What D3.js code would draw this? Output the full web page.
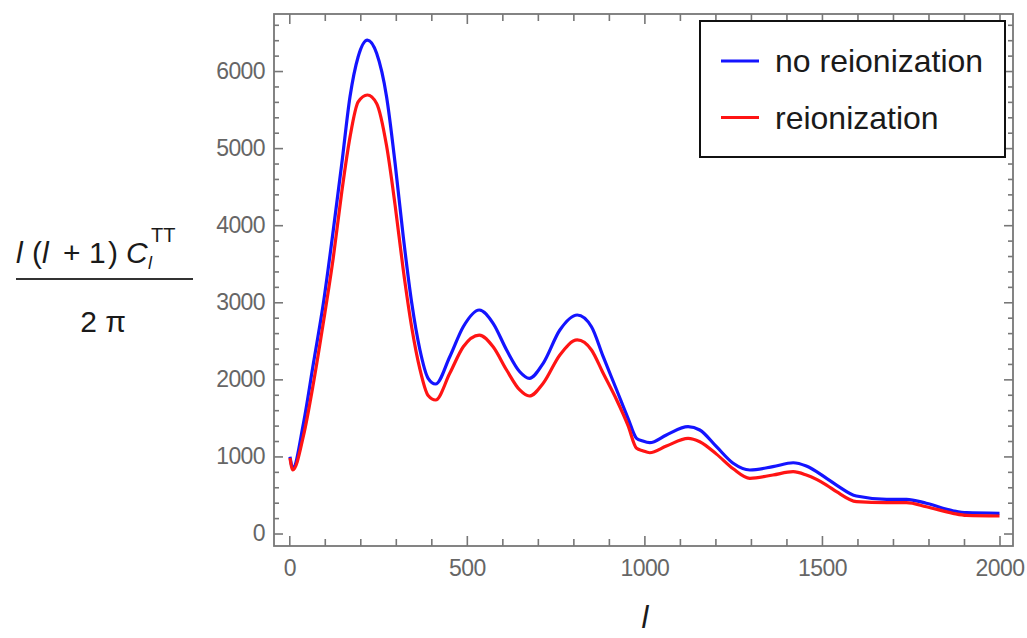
<!DOCTYPE html>
<html>
<head>
	<meta http-equiv="Content-Type" content="text/html; charset=utf-8">
	<title>CMB TT spectrum</title>
	<script src="https://d3js.org/d3.v7.min.js"></script>
	<style>
		body { margin: 0; background: #fff; }
		text { font-family: 'Liberation Sans', Arial, sans-serif; }
		.tick text { fill: #666; font-size: 23px; }
		.domain { display: none; }
		.tick line { stroke: #777; stroke-width: 1.6px; }
	</style>
</head>
<body>
<script>
	// multipoles
	var ell = [2, 10, 40, 68, 96, 124, 148, 171, 194, 220, 246, 274, 298, 321, 345, 368, 391, 412,
		452, 490, 535, 574, 612, 649, 676, 715, 762, 811, 851, 884, 922, 954, 978, 995, 1015, 1062,
		1123, 1156, 1203, 1250, 1297, 1362, 1419, 1456, 1513, 1541, 1597, 1682, 1738, 1794, 1869, 1907, 2000];

	// l(l+1)C_l/2pi without reionization
	var noReion = [996, 850, 1430, 2208, 2987, 3937, 4803, 5667, 6186, 6402, 6230, 5667, 4803, 3851, 2987, 2381, 2014, 1940,
		2294, 2683, 2900, 2727, 2381, 2099, 2014, 2208, 2640, 2835, 2683, 2294, 1862, 1495, 1235, 1200, 1178, 1278,
		1386, 1343, 1126, 911, 824, 867, 918, 876, 716, 629, 486, 444, 444, 392, 296, 270, 262];

	// with reionization
	var reion = [980, 824, 1270, 1950, 2737, 3580, 4438, 5143, 5600, 5689, 5580, 5030, 4260, 3420, 2670, 2130, 1790, 1732,
		2078, 2423, 2575, 2423, 2121, 1862, 1784, 1949, 2316, 2511, 2381, 2078, 1732, 1400, 1105, 1074, 1048, 1135,
		1235, 1191, 1030, 840, 716, 759, 802, 759, 629, 542, 413, 400, 400, 348, 262, 235, 227];

	var xMajor = [0, 500, 1000, 1500, 2000];
	var yMajor = [0, 1000, 2000, 3000, 4000, 5000, 6000];
	var seriesNames = ["no reionization", "reionization"];
	var seriesColors = ["#1414ff", "#ff1414"];

	var W = 1027, H = 638;
	var frame = {left: 274, right: 1013, top: 14, bottom: 546};

	var x = d3.scaleLinear().domain([-43, 2038]).range([frame.left, frame.right]);
	var y = d3.scaleLinear().domain([-162, 6740]).range([frame.bottom, frame.top]);

	var xMinor = d3.range(0, 2001, 100).filter(function(v) { return v % 500 !== 0; });
	var yMinor = d3.range(0, 6700, 200).filter(function(v) { return v % 1000 !== 0; });

	var svg = d3.select("body").append("svg")
		.attr("width", W)
		.attr("height", H);

	// frame ticks, all pointing inward
	svg.append("g").attr("transform", "translate(0," + frame.bottom + ")")
		.call(d3.axisBottom(x).tickValues(xMajor).tickSize(-10).tickPadding(14).tickFormat(d3.format("d")));
	svg.append("g").attr("transform", "translate(0," + frame.bottom + ")")
		.call(d3.axisBottom(x).tickValues(xMinor).tickSize(-7).tickFormat(""));
	svg.append("g").attr("transform", "translate(0," + frame.top + ")")
		.call(d3.axisTop(x).tickValues(xMajor).tickSize(-10).tickFormat(""));
	svg.append("g").attr("transform", "translate(0," + frame.top + ")")
		.call(d3.axisTop(x).tickValues(xMinor).tickSize(-7).tickFormat(""));

	svg.append("g").attr("transform", "translate(" + frame.left + ",0)")
		.call(d3.axisLeft(y).tickValues(yMajor).tickSize(-9).tickPadding(9).tickFormat(d3.format("d")));
	svg.append("g").attr("transform", "translate(" + frame.left + ",0)")
		.call(d3.axisLeft(y).tickValues(yMinor).tickSize(-5).tickFormat(""));
	svg.append("g").attr("transform", "translate(" + frame.right + ",0)")
		.call(d3.axisRight(y).tickValues(yMajor).tickSize(-9).tickFormat(""));
	svg.append("g").attr("transform", "translate(" + frame.right + ",0)")
		.call(d3.axisRight(y).tickValues(yMinor).tickSize(-5).tickFormat(""));

	svg.selectAll(".tick text").attr("letter-spacing", "-0.6px");

	svg.append("rect")
		.attr("x", frame.left).attr("y", frame.top)
		.attr("width", frame.right - frame.left)
		.attr("height", frame.bottom - frame.top)
		.attr("fill", "none")
		.attr("stroke", "#777")
		.attr("stroke-width", 1.8);

	// curves
	var line = d3.line()
		.x(function(d) { return x(d[0]); })
		.y(function(d) { return y(d[1]); })
		.curve(d3.curveMonotoneX);

	[noReion, reion].forEach(function(vals, i) {
		svg.append("path")
			.datum(ell.map(function(l, j) { return [l, vals[j]]; }))
			.attr("d", line)
			.attr("fill", "none")
			.attr("stroke", seriesColors[i])
			.attr("stroke-width", 3.2)
			.attr("stroke-linejoin", "round");
	});

	// legend
	var legend = svg.append("g");
	legend.append("rect")
		.attr("x", 700).attr("y", 21)
		.attr("width", 305).attr("height", 136)
		.attr("fill", "#fff")
		.attr("stroke", "#111")
		.attr("stroke-width", 2);
	seriesNames.forEach(function(name, i) {
		var ly = 61 + i * 56.5;
		legend.append("line")
			.attr("x1", 721).attr("x2", 759)
			.attr("y1", ly).attr("y2", ly)
			.attr("stroke", seriesColors[i])
			.attr("stroke-width", 3);
		legend.append("text")
			.attr("x", 775).attr("y", ly + 11)
			.attr("font-size", 32)
			.attr("fill", "#1a1a1a")
			.text(name);
	});

	// y label as a fraction, glyphs spaced like the original
	var ylab = svg.append("g").attr("fill", "#1a1a1a").attr("font-size", 30);
	var numParts = [
		{t: "l", x: 16, it: true},
		{t: "(", x: 32, it: false},
		{t: "l", x: 42, it: true},
		{t: "+", x: 63, it: false},
		{t: "1", x: 89, it: false},
		{t: ")", x: 108, it: false},
		{t: "C", x: 126, it: true}
	];
	numParts.forEach(function(p) {
		ylab.append("text").attr("x", p.x).attr("y", 263)
			.attr("font-style", p.it ? "italic" : null)
			.text(p.t);
	});
	ylab.append("text").attr("x", 148).attr("y", 269).attr("font-size", 18)
		.attr("font-style", "italic").text("l");
	ylab.append("text").attr("x", 151).attr("y", 242).attr("font-size", 20).text("TT");
	ylab.append("line")
		.attr("x1", 16).attr("x2", 193)
		.attr("y1", 279).attr("y2", 279)
		.attr("stroke", "#333").attr("stroke-width", 2.2);
	ylab.append("text").attr("x", 103).attr("y", 332)
		.attr("text-anchor", "middle").text("2 π");

	// x label
	svg.append("text")
		.attr("x", 645).attr("y", 628)
		.attr("font-size", 31)
		.attr("font-style", "italic")
		.attr("text-anchor", "middle")
		.attr("fill", "#1a1a1a")
		.text("l");
</script>
</body>
</html>
